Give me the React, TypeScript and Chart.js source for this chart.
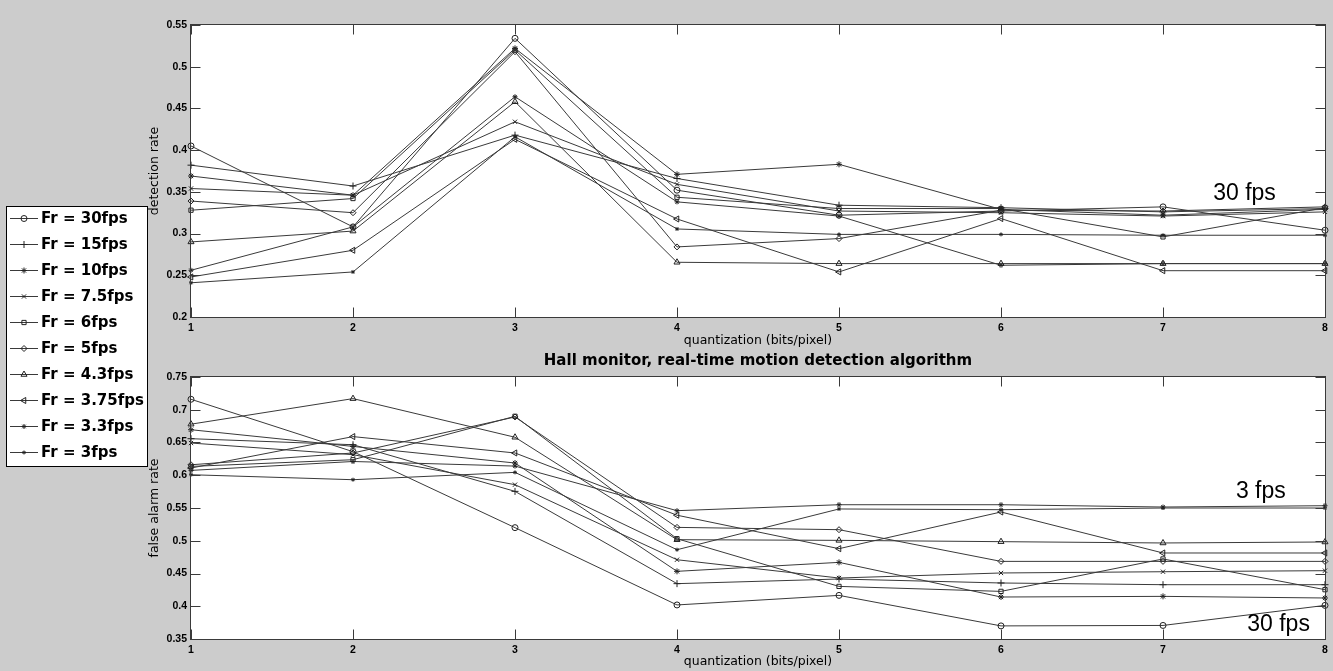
import React, { useEffect, useRef } from 'react';
import { Chart, registerables } from 'chart.js';
import { drawPoint } from 'chart.js/helpers';

Chart.register(...registerables);

// ---------------- data ----------------
const xValues = [1, 2, 3, 4, 5, 6, 7, 8];
const xLabels = ['1', '2', '3', '4', '5', '6', '7', '8'];
const seriesNames = [
  'Fr = 30fps', 'Fr = 15fps', 'Fr = 10fps', 'Fr = 7.5fps', 'Fr = 6fps',
  'Fr = 5fps', 'Fr = 4.3fps', 'Fr = 3.75fps', 'Fr = 3.3fps', 'Fr = 3fps',
];
const topYTicks = [0.2, 0.25, 0.3, 0.35, 0.4, 0.45, 0.5, 0.55];
const bottomYTicks = [0.35, 0.4, 0.45, 0.5, 0.55, 0.6, 0.65, 0.7, 0.75];

// detection rate (top plot)
const det30 = [0.405, 0.308, 0.534, 0.352, 0.322, 0.327, 0.332, 0.304];
const det15 = [0.382, 0.357, 0.418, 0.366, 0.334, 0.331, 0.326, 0.330];
const det10 = [0.369, 0.346, 0.522, 0.371, 0.383, 0.329, 0.322, 0.329];
const det75 = [0.354, 0.346, 0.434, 0.359, 0.327, 0.325, 0.321, 0.326];
const det6 = [0.328, 0.342, 0.520, 0.3435, 0.330, 0.330, 0.296, 0.331];
const det5 = [0.339, 0.325, 0.518, 0.284, 0.294, 0.328, 0.327, 0.332];
const det43 = [0.290, 0.303, 0.458, 0.2656, 0.264, 0.264, 0.264, 0.264];
const det375 = [0.248, 0.280, 0.413, 0.3175, 0.254, 0.318, 0.2555, 0.2555];
const det33 = [0.256, 0.308, 0.464, 0.338, 0.321, 0.262, 0.264, 0.264];
const det3 = [0.241, 0.254, 0.416, 0.3055, 0.299, 0.299, 0.298, 0.298];

// false alarm rate (bottom plot)
const fa30 = [0.716, 0.636, 0.520, 0.402, 0.4166, 0.370, 0.3707, 0.4013];
const fa15 = [0.6558, 0.6466, 0.5754, 0.4345, 0.4416, 0.4355, 0.4329, 0.4329];
const fa10 = [0.6695, 0.644, 0.6187, 0.4533, 0.467, 0.4141, 0.4151, 0.4126];
const fa75 = [0.6492, 0.6314, 0.5856, 0.471, 0.4431, 0.4508, 0.4527, 0.4543];
const fa6 = [0.6135, 0.6237, 0.690, 0.5031, 0.4303, 0.4227, 0.4722, 0.4253];
const fa5 = [0.616, 0.634, 0.689, 0.5204, 0.5169, 0.4685, 0.4685, 0.4685];
const fa43 = [0.678, 0.717, 0.658, 0.5016, 0.5006, 0.4986, 0.4966, 0.4981];
const fa375 = [0.611, 0.659, 0.634, 0.539, 0.4879, 0.5439, 0.4813, 0.4813];
const fa33 = [0.6074, 0.621, 0.614, 0.5459, 0.555, 0.555, 0.5515, 0.5535];
const fa3 = [0.6008, 0.5932, 0.6044, 0.4863, 0.5485, 0.5474, 0.55, 0.55];

const detectionSeries = [det30, det15, det10, det75, det6, det5, det43, det375, det33, det3];
const falseAlarmSeries = [fa30, fa15, fa10, fa75, fa6, fa5, fa43, fa375, fa33, fa3];

const topTitleX = 'quantization (bits/pixel)';
const bottomTitleX = 'quantization (bits/pixel)';
const topTitleY = 'detection rate';
const bottomTitleY = 'false alarm rate';
const mainTitle = 'Hall monitor, real-time motion detection algorithm';

const topAnnotations = [{ text: '30 fps', x: 7.31, y: 0.340 }];
const bottomAnnotations = [
  { text: '3 fps', x: 7.45, y: 0.5657 },
  { text: '30 fps', x: 7.52, y: 0.3627 },
];

// ---------------- styles ----------------
const markers = [
  { pointStyle: 'circle', radius: 3, rotation: 0 },
  { pointStyle: 'cross', radius: 3.5, rotation: 0 },
  { pointStyle: 'star', radius: 3, rotation: 0 },
  { pointStyle: 'crossRot', radius: 3, rotation: 0 },
  { pointStyle: 'rect', radius: 3, rotation: 0 },
  { pointStyle: 'rectRot', radius: 3, rotation: 0 },
  { pointStyle: 'triangle', radius: 3.5, rotation: 0 },
  { pointStyle: 'triangle', radius: 3.5, rotation: -90 },
  { pointStyle: 'star', radius: 2.5, rotation: 0 },
  { pointStyle: 'star', radius: 2, rotation: 0 },
];

const LINE = '#3a3a3a';
const TICK_FONT = { family: '"Liberation Sans", Arial, sans-serif', size: 10.5, weight: 'bold' as const };
const AXIS_TITLE_FONT = { family: '"DejaVu Sans", sans-serif', size: 12.5, weight: 'normal' as const };

const framePlugin = {
  id: 'matlabFrame',
  beforeDraw(chart: any) {
    const { ctx, chartArea: a } = chart;
    ctx.save();
    ctx.fillStyle = '#ffffff';
    ctx.fillRect(a.left, a.top, a.right - a.left, a.bottom - a.top);
    ctx.restore();
  },
  afterDraw(chart: any, _args: any, opts: any) {
    const { ctx, chartArea: a } = chart;
    const xs = chart.scales.x;
    const ys = chart.scales.y;
    const L = Math.round(a.left) - 0.5;
    const R = Math.round(a.right) + 0.5;
    const T = Math.round(a.top) - 0.5;
    const B = Math.round(a.bottom) + 0.5;
    ctx.save();
    ctx.strokeStyle = '#3a3a3a';
    ctx.lineWidth = 1;
    ctx.strokeRect(L, T, R - L, B - T);
    const len = 10;
    ctx.beginPath();
    xs.ticks.forEach((t: any) => {
      const px = Math.round(xs.getPixelForValue(t.value)) + 0.5;
      ctx.moveTo(px, T); ctx.lineTo(px, T + len);
      ctx.moveTo(px, B); ctx.lineTo(px, B - len);
    });
    ys.ticks.forEach((t: any) => {
      const py = Math.round(ys.getPixelForValue(t.value)) + 0.5;
      ctx.moveTo(L, py); ctx.lineTo(L + len, py);
      ctx.moveTo(R, py); ctx.lineTo(R - len, py);
    });
    ctx.stroke();

    // annotations
    ctx.fillStyle = '#000';
    ctx.font = '23px "Liberation Sans", Arial, sans-serif';
    ctx.textBaseline = 'alphabetic';
    ctx.textAlign = 'left';
    (opts.annotations || []).forEach((an: any) => {
      ctx.fillText(an.text, xs.getPixelForValue(an.x), ys.getPixelForValue(an.y));
    });

    // legend
    if (opts.drawLegend) {
      const bx = 6.5, by = 206.5, bw = 141, bh = 260;
      ctx.fillStyle = '#ffffff';
      ctx.fillRect(bx, by, bw, bh);
      ctx.strokeStyle = '#000';
      ctx.strokeRect(bx, by, bw, bh);
      ctx.font = 'bold 15px "DejaVu Sans", sans-serif';
      ctx.textBaseline = 'middle';
      seriesNames.forEach((name, i) => {
        const y = Math.round(218 + i * 26) + 0.5;
        ctx.strokeStyle = LINE;
        ctx.lineWidth = 1;
        ctx.beginPath();
        ctx.moveTo(10, y); ctx.lineTo(38, y);
        ctx.stroke();
        const m = markers[i];
        ctx.strokeStyle = '#222';
        ctx.fillStyle = 'rgba(0,0,0,0)';
        drawPoint(ctx, { pointStyle: m.pointStyle, rotation: m.rotation, radius: m.radius, borderWidth: 1 } as any, 24, y);
        ctx.fillStyle = '#000';
        ctx.fillText(name, 41, y + 1);
      });
    }
    ctx.restore();
  },
};

function buildDatasets(series: number[][]) {
  return series.map((vals, i) => ({
    label: seriesNames[i],
    data: xValues.map((x, j) => ({ x, y: vals[j] })),
    borderColor: LINE,
    borderWidth: 1,
    pointStyle: markers[i].pointStyle,
    pointRadius: markers[i].radius,
    pointRotation: markers[i].rotation,
    pointBorderColor: '#222',
    pointBackgroundColor: 'rgba(0,0,0,0)',
    pointBorderWidth: 1,
    pointHoverRadius: markers[i].radius,
    tension: 0,
    clip: false as any,
  }));
}

function makeConfig(
  series: number[][],
  yTicks: number[],
  yTitle: string,
  xTitle: string,
  padding: any,
  extra: { title?: string; annotations: any[]; drawLegend: boolean; xTitlePad: number },
): any {
  return {
    type: 'line',
    data: { datasets: buildDatasets(series) },
    plugins: [framePlugin],
    options: {
      responsive: false,
      animation: false,
      events: [],
      layout: { padding },
      scales: {
        x: {
          type: 'linear',
          min: xValues[0],
          max: xValues[xValues.length - 1],
          afterBuildTicks: (s: any) => { s.ticks = xValues.map((v) => ({ value: v })); },
          afterFit: (s: any) => { s.height = 32; },
          grid: { display: false, drawTicks: false },
          border: { display: false },
          ticks: {
            padding: 5,
            color: '#000',
            font: TICK_FONT,
            maxRotation: 0,
            autoSkip: false,
            callback: (v: number) => xLabels[xValues.indexOf(v)] ?? '',
          },
          title: { display: true, text: xTitle, color: '#000', font: AXIS_TITLE_FONT, padding: { top: 0, bottom: extra.xTitlePad } },
        },
        y: {
          type: 'linear',
          min: yTicks[0],
          max: yTicks[yTicks.length - 1],
          afterBuildTicks: (s: any) => { s.ticks = yTicks.map((v) => ({ value: v })); },
          afterFit: (s: any) => { s.width = 44; },
          grid: { display: false, drawTicks: false },
          border: { display: false },
          ticks: {
            padding: 4,
            color: '#000',
            font: TICK_FONT,
            autoSkip: false,
            callback: (v: number) => String(Number(v.toFixed(2))),
          },
          title: { display: true, text: yTitle, color: '#000', font: AXIS_TITLE_FONT, padding: { top: 0, bottom: 0 } },
        },
      },
      plugins: {
        legend: { display: false },
        tooltip: { enabled: false },
        title: extra.title
          ? {
              display: true,
              text: extra.title,
              fullSize: false,
              color: '#000',
              font: { family: '"DejaVu Sans", sans-serif', size: 15, weight: 'bold' },
              padding: { top: 12, bottom: 7 },
            }
          : { display: false },
        matlabFrame: { annotations: extra.annotations, drawLegend: extra.drawLegend },
      },
    },
  };
}

export default function App() {
  const topRef = useRef<HTMLCanvasElement>(null);
  const botRef = useRef<HTMLCanvasElement>(null);

  useEffect(() => {
    document.body.style.margin = '0';
    const top = new Chart(
      topRef.current as HTMLCanvasElement,
      makeConfig(detectionSeries, topYTicks, topTitleY, topTitleX,
        { left: 147, right: 8, top: 25, bottom: 322 },
        { annotations: topAnnotations, drawLegend: true, xTitlePad: 1 }),
    );
    const bottom = new Chart(
      botRef.current as HTMLCanvasElement,
      makeConfig(falseAlarmSeries, bottomYTicks, bottomTitleY, bottomTitleX,
        { left: 147, right: 8, top: 0, bottom: 0 },
        { title: mainTitle, annotations: bottomAnnotations, drawLegend: false, xTitlePad: 2 }),
    );
    return () => {
      top.destroy();
      bottom.destroy();
    };
  }, []);

  return (
    <div style={{ position: 'absolute', left: 0, top: 0, width: 1333, height: 671, background: '#cccccc', overflow: 'hidden' }}>
      <canvas ref={topRef} width={1333} height={671} style={{ position: 'absolute', left: 0, top: 0 }} />
      <canvas ref={botRef} width={1333} height={331} style={{ position: 'absolute', left: 0, top: 340 }} />
    </div>
  );
}
